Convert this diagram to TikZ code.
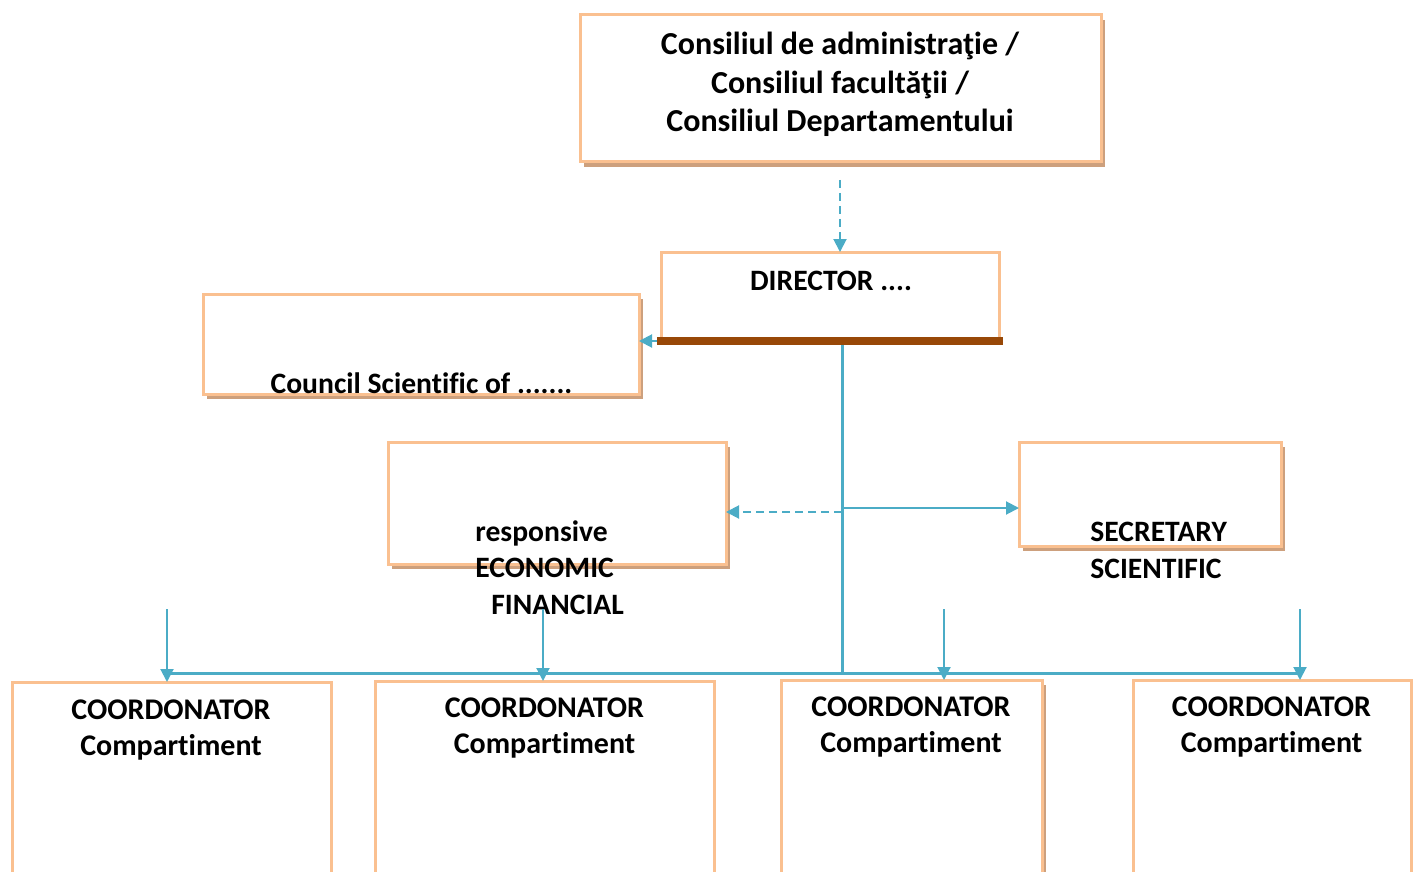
\documentclass[tikz,border=0pt]{standalone}
\usepackage{fontspec}
\setmainfont{Carlito}[Ligatures=NoCommon]
\usetikzlibrary{arrows.meta,shadows}
\definecolor{peach}{RGB}{250,192,144}
\definecolor{shadowtan}{RGB}{205,160,125}
\definecolor{barbrown}{RGB}{152,72,7}
\definecolor{linkblue}{RGB}{75,172,198}
\begin{document}
\begin{tikzpicture}[x=0.5pt,y=-0.5pt,
		box/.style={draw=peach,line width=1.5pt,fill=white,anchor=north,inner sep=0pt,outer sep=0pt},
		boxshadow/.style={drop shadow={shadow xshift=2pt,shadow yshift=-2.5pt,fill=shadowtan,opacity=1}},
		txt/.style={font=\bfseries\fontsize{14.8}{18.25}\selectfont,inner sep=0pt,anchor=base},
		link/.style={draw=linkblue,line width=1pt,-{Triangle[width=6.5pt,length=6.5pt]}},
		dashlink/.style={link,dash pattern=on 4pt off 2.5pt},
		trunk/.style={draw=linkblue,line width=1.5pt}]
	\clip (0,0) rectangle (1420,872);
	% boxes
	\node[box,boxshadow,minimum width=260.5pt,minimum height=73.5pt] (consiliu) at (840.5,15) {};
	\node[box,minimum width=169pt,minimum height=44.5pt] (director) at (830,252) {};
	\node[box,boxshadow,minimum width=218pt,minimum height=50pt] (council) at (421,294) {};
	\node[box,boxshadow,minimum width=169pt,minimum height=61pt] (economic) at (557,442) {};
	\node[box,boxshadow,minimum width=131pt,minimum height=52pt] (secretary) at (1150,442) {};
	\node[box,minimum width=159.5pt,minimum height=150pt] (coord1) at (171.5,682) {};
	\node[box,minimum width=169.5pt,minimum height=150pt] (coord2) at (544.5,681) {};
	\node[box,boxshadow,minimum width=130.5pt,minimum height=150pt] (coord3) at (911.5,680) {};
	\node[box,minimum width=139pt,minimum height=150pt] (coord4) at (1272,680) {};
	% texts (base = last line)
	\node[txt,align=center,font=\bfseries\fontsize{16}{19.25}\selectfont] (consiliutxt) at (840,132) {Consiliul de administraţie /\\Consiliul facultăţii /\\Consiliul Departamentului};
	\node[txt] (directortxt) at (831,290) {DIRECTOR ....};
	\node[txt] (counciltxt) at (421.5,393) {Council Scientific of .......};
	\node[txt,anchor=base west,align=left] (economictxt) at (475,614) {responsive\\ECONOMIC\\\hspace{8pt}FINANCIAL};
	\node[txt,anchor=base west,align=left] (secretarytxt) at (1090,578) {SECRETARY\\SCIENTIFIC};
	\foreach \x/\y [count=\i] in {171/755,544.5/753,911/752,1271.5/752}
		\node[txt,align=center,font=\bfseries\fontsize{15}{18}\selectfont] (coordtxt\i) at (\x,\y) {COORDONATOR\\Compartiment};
	% connectors
	\coordinate (topgap) at (840,180);
	\coordinate (bus) at (842,673);
	\coordinate (ecojoin) at (842,512);
	\coordinate (secjoin) at (842,508);
	\foreach \x [count=\i] in {167,543,944,1300}
		\coordinate (drop\i) at (\x,609);
	\draw[dashlink] (topgap) -- (topgap |- director.north);
	\draw[trunk] (bus |- director.south) -- (bus);
	\draw[link] (director.south west) -- (director.south west -| council.east);
	\draw[dashlink] (ecojoin) -- (ecojoin -| economic.east);
	\draw[link] (secjoin) -- (secjoin -| secretary.west);
	\draw[trunk] (drop1 |- bus) -- (drop4 |- bus);
	\foreach \i in {1,...,4}
		\draw[link] (drop\i) -- (drop\i |- coord\i.north);
	\draw[barbrown,line width=4pt,line cap=rect] (director.south west) -- (director.south east);
\end{tikzpicture}
\end{document}
